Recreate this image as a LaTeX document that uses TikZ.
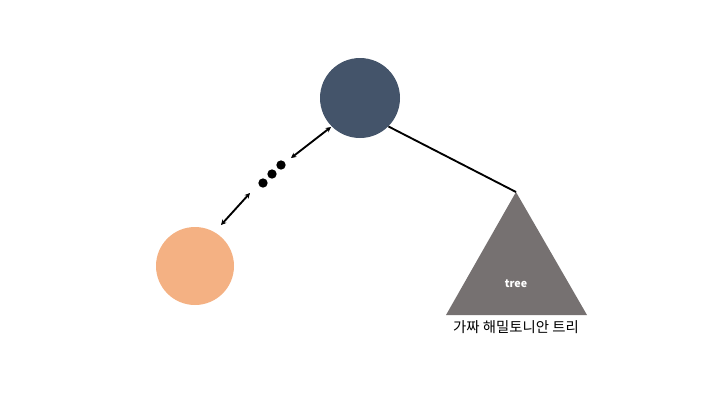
\documentclass[tikz,border=0pt]{standalone}
\usepackage{fontspec}
\setmainfont{Noto Sans CJK KR}
\usetikzlibrary{arrows.meta}
\definecolor{darkblue}{HTML}{44546A}
\definecolor{peach}{HTML}{F4B183}
\definecolor{treegray}{HTML}{767171}
\tikzset{
  conn/.style={line width=1.4pt, {Stealth[length=4pt,width=4pt]}-{Stealth[length=4pt,width=4pt]}},
  dot/.style={circle, fill=black, inner sep=0pt, minimum size=7pt},
}
\begin{document}
\begin{tikzpicture}[x=0.75pt,y=-0.75pt]
\useasboundingbox (0,0) rectangle (720,405);
\node[circle, fill=darkblue, minimum size=60pt, inner sep=0pt] (top) at (360,98) {};
\node[circle, fill=peach, minimum size=58.5pt, inner sep=0pt] (left) at (195,266) {};
\coordinate (apex) at (516,192);
\coordinate (bl) at (446,315);
\coordinate (br) at (587,315);
\fill[treegray] (apex) -- (br) -- (bl) -- cycle;
\node[text=white, font=\bfseries\fontsize{8pt}{9.6pt}\selectfont] (treelabel) at (516,284) {tree};
\node[font=\fontsize{10.8pt}{13pt}\selectfont] (caption) at (516,327) {가짜 해밀토니안 트리};
\draw[line width=1.4pt] (top.-45) -- (apex);
\coordinate (a1s) at (331,127);
\coordinate (a1e) at (291,158);
\coordinate (a2s) at (250,193);
\coordinate (a2e) at (221,225);
\draw[conn] (a1s) -- (a1e);
\draw[conn] (a2s) -- (a2e);
\node[dot] (d1) at (263,183) {};
\node[dot] (d2) at (272,174) {};
\node[dot] (d3) at (281,165) {};
\end{tikzpicture}
\end{document}
